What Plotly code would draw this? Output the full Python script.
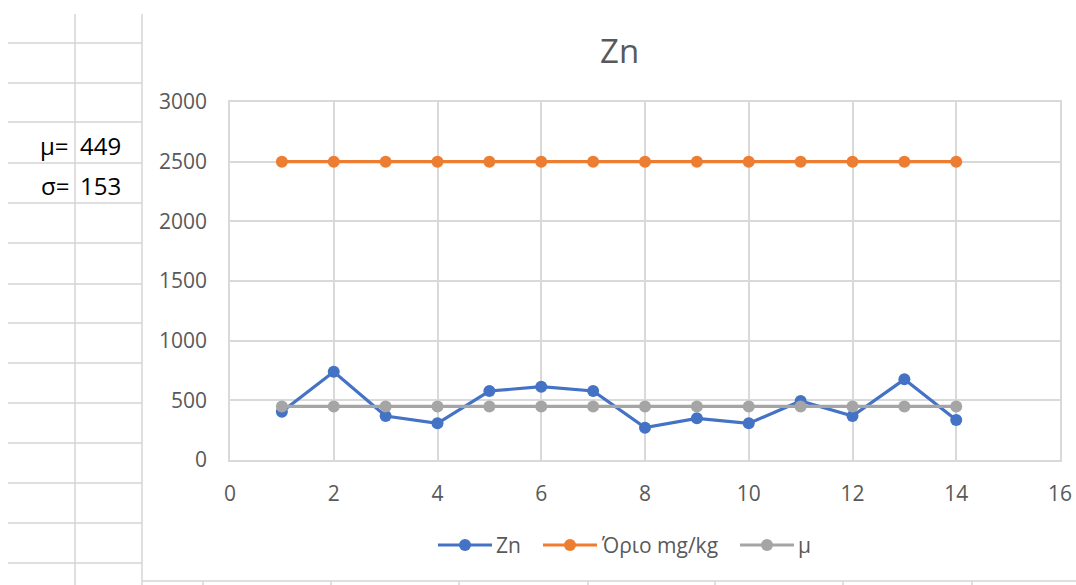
import plotly.graph_objects as go

# ---- data ----
samples = [1, 2, 3, 4, 5, 6, 7, 8, 9, 10, 11, 12, 13, 14]
zn = [405, 740, 369, 307, 578, 614, 578, 271, 349, 307, 494, 369, 676, 335]
limit = [2500] * 14
mu_value = 449
sigma_value = 153
mu = [mu_value] * 14
x_ticks = [0, 2, 4, 6, 8, 10, 12, 14, 16]
y_ticks = [0, 500, 1000, 1500, 2000, 2500, 3000]
series_names = ["Zn", "Όριο mg/kg", "μ"]
series_colors = ["#4472C4", "#ED7D31", "#A5A5A5"]

# ---- geometry (pixels of the 1076x585 page) ----
W, H = 1076, 585
L, R, T, B = 230, 1060, 102, 460   # plot area edges


def px(x):
    return (x - L) / (R - L)


def py(y):
    return (B - y) / (B - T)


FONT = "Open Sans"
GRID = "#d9d9d9"
TXT = "#595959"

fig = go.Figure()
for name, color, values in zip(series_names, series_colors, [zn, limit, mu]):
    fig.add_trace(go.Scatter(x=samples, y=values, name=name, mode="lines+markers",
                             line=dict(color=color, width=3.2),
                             marker=dict(size=12, color=color),
                             showlegend=False))

shapes = []
sheet = "#d4d4d4"
# spreadsheet cell grid on the left
for yy in [43, 83, 122, 163, 203, 243, 284, 323, 363, 403, 443, 483, 523, 563]:
    shapes.append(dict(type="line", xref="paper", yref="paper",
                       x0=px(8), x1=px(142), y0=py(yy), y1=py(yy),
                       line=dict(color=sheet, width=1.5)))
for xx in [75, 142]:
    shapes.append(dict(type="line", xref="paper", yref="paper",
                       x0=px(xx), x1=px(xx), y0=py(14), y1=py(585),
                       line=dict(color=sheet, width=1.5)))
# chart bottom border and column lines below it
shapes.append(dict(type="line", xref="paper", yref="paper",
                   x0=px(142), x1=px(1076), y0=py(581), y1=py(581),
                   line=dict(color=sheet, width=1.5)))
for xx in [203, 331, 459, 588, 715, 843, 972]:
    shapes.append(dict(type="line", xref="paper", yref="paper",
                       x0=px(xx), x1=px(xx), y0=py(581), y1=py(585),
                       line=dict(color=sheet, width=1.5)))

annotations = [
    dict(text="Zn", xref="paper", yref="paper", x=px(619), y=py(50),
         xanchor="center", yanchor="middle", showarrow=False,
         font=dict(family=FONT, size=33, color=TXT)),
    dict(text="μ=", xref="paper", yref="paper", x=px(71), y=py(145),
         xanchor="right", yanchor="middle", showarrow=False,
         font=dict(family=FONT, size=24, color="#000000")),
    dict(text=str(mu_value), xref="paper", yref="paper", x=px(78), y=py(145),
         xanchor="left", yanchor="middle", showarrow=False,
         font=dict(family=FONT, size=24, color="#000000")),
    dict(text="σ=", xref="paper", yref="paper", x=px(71), y=py(185),
         xanchor="right", yanchor="middle", showarrow=False,
         font=dict(family=FONT, size=24, color="#000000")),
    dict(text=str(sigma_value), xref="paper", yref="paper", x=px(78), y=py(185),
         xanchor="left", yanchor="middle", showarrow=False,
         font=dict(family=FONT, size=24, color="#000000")),
]

# legend (Excel style: long line with a marker in the middle)
legend_y = 545
legend_starts = [438, 543, 740]
for name, color, x0 in zip(series_names, series_colors, legend_starts):
    shapes.append(dict(type="line", xref="paper", yref="paper",
                       x0=px(x0), x1=px(x0 + 54), y0=py(legend_y), y1=py(legend_y),
                       line=dict(color=color, width=3.2)))
    shapes.append(dict(type="circle", xref="paper", yref="paper",
                       x0=px(x0 + 21), x1=px(x0 + 33),
                       y0=py(legend_y + 6), y1=py(legend_y - 6),
                       fillcolor=color, line=dict(color=color, width=0)))
    annotations.append(dict(text=name, xref="paper", yref="paper",
                            x=px(x0 + 56), y=py(legend_y), xanchor="left",
                            yanchor="middle", showarrow=False,
                            font=dict(family=FONT, size=21, color=TXT)))

fig.update_layout(
    width=W, height=H,
    margin=dict(l=L, r=W - R, t=T, b=H - B, pad=0, autoexpand=False),
    paper_bgcolor="white", plot_bgcolor="white",
    font=dict(family=FONT, size=20, color=TXT),
    showlegend=False,
    shapes=shapes,
    annotations=annotations,
    xaxis=dict(range=[0, 16], tickvals=x_ticks, showgrid=True, gridcolor=GRID,
               gridwidth=1.5, zeroline=False, showline=True, linecolor=GRID,
               linewidth=1.5, mirror=True, ticks="", ticklabelstandoff=14,
               automargin=False,
               tickfont=dict(family=FONT, size=21, color=TXT), fixedrange=True),
    yaxis=dict(range=[0, 3000], tickvals=y_ticks, showgrid=True, gridcolor=GRID,
               gridwidth=1.5, zeroline=False, showline=True, linecolor=GRID,
               linewidth=1.5, mirror=True, ticks="", ticklabelstandoff=17,
               automargin=False,
               tickfont=dict(family=FONT, size=21, color=TXT), fixedrange=True),
)

fig.write_html("out.html", config=dict(displayModeBar=False))
